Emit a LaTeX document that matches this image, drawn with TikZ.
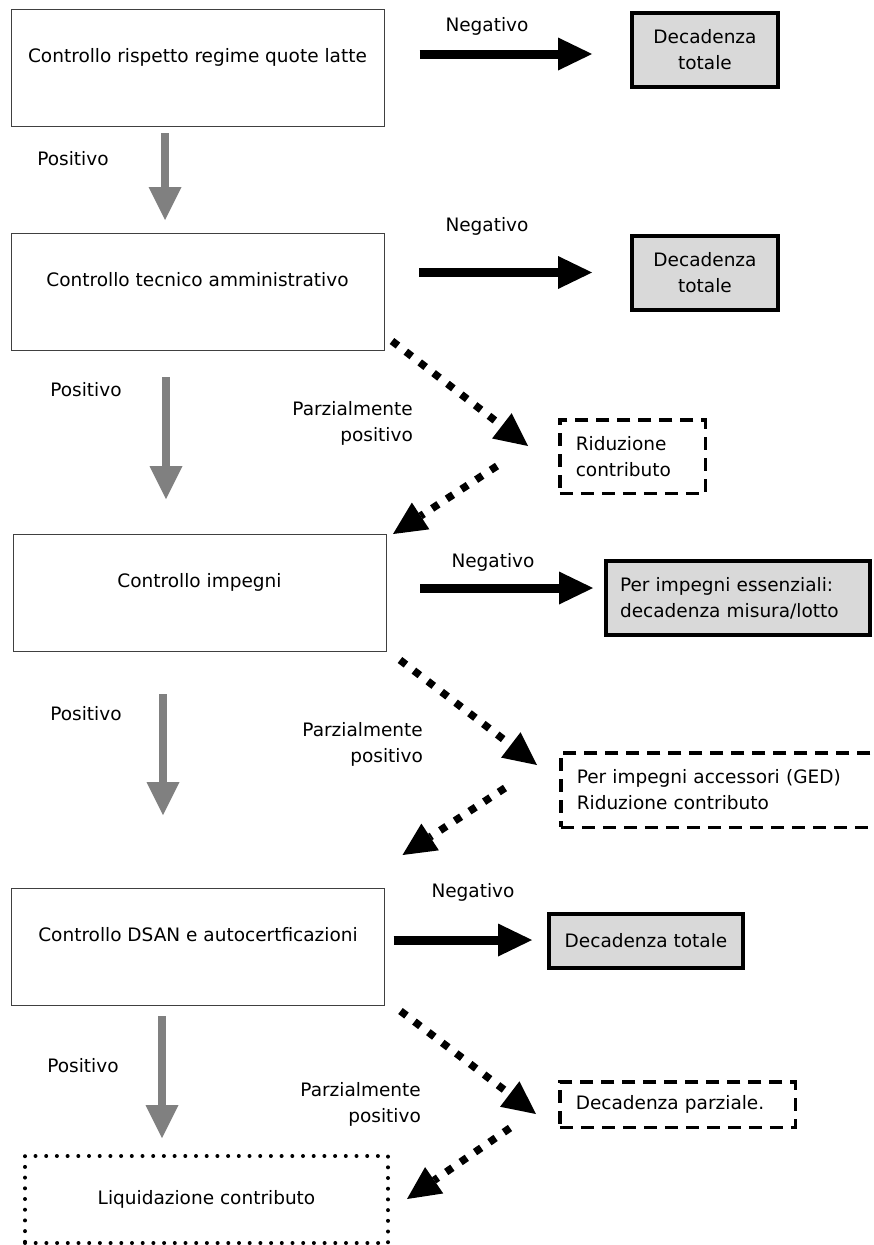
\documentclass[tikz,border=0pt]{standalone}
\usepackage{fontspec}
\setmainfont{DejaVu Sans}
\usetikzlibrary{positioning,arrows.meta}
\definecolor{decgray}{HTML}{D9D9D9}
\definecolor{posgray}{HTML}{808080}

\begin{document}
\begin{tikzpicture}[
    x=1pt, y=-1pt,
    every node/.style={font=\fontsize{18.5}{26}\selectfont},
    ctrl/.style={draw=black!75, line width=1pt, minimum width=373pt, minimum height=117pt, text height=14pt, text depth=25pt},
    dec/.style={draw, line width=4pt, fill=decgray, align=center, minimum height=74pt},
    partbox/.style={draw, line width=3.5pt, dash pattern=on 13pt off 8pt, align=left, inner xsep=16pt},
    lbl/.style={inner sep=0pt, align=right},
    negarrow/.style={-{Triangle[length=34pt, width=33pt, line width=0pt]}, line width=9pt},
    posarrow/.style={-{Triangle[length=33pt, width=33pt, line width=0pt]}, line width=8.5pt, draw=posgray},
    partarrow/.style={-{Triangle[length=33pt, width=32pt, line width=0pt]}, line width=7.5pt, dash pattern=on 7.5pt off 10pt}
]

\path[fill=white, use as bounding box] (0,0) rectangle (873,1245);

\node[ctrl] (c1) at (197.5,68) {Controllo rispetto regime quote latte};
\node[ctrl] (c2) [below=106pt of c1] {Controllo tecnico amministrativo};
\node[ctrl] (c3) [below=183pt of c2, xshift=2pt] {Controllo impegni};
\node[ctrl] (c4) [below=236pt of c3, xshift=-1.5pt] {Controllo DSAN e autocertficazioni};
\node[draw, line width=4pt, line cap=round, dash pattern=on 0pt off 10.7pt, minimum width=363pt, minimum height=87pt] (liq) [below=148pt of c4, xshift=8.5pt] {Liquidazione contributo};

\node[dec, minimum width=146pt] (d1) at (705,50) {Decadenza\\totale};
\node[dec, minimum width=146pt] (d2) at (705,272.5) {Decadenza\\totale};
\node[dec, minimum width=264pt, text width=236pt, align=left] (d3) at (738,598) {Per impegni essenziali:\\decadenza misura/lotto};
\node[dec, minimum width=194pt, minimum height=54pt] (d4) at (646,941) {Decadenza totale};

\node[partbox, text width=113.5pt, minimum height=73.5pt] (r1) at (632.5,456.5) {Riduzione\\contributo};
\node[partbox, text width=295.5pt, minimum height=74.5pt] (r2) at (724.5,790) {Per impegni accessori (GED)\\Riduzione contributo};
\node[partbox, text width=203.5pt, minimum height=45.5pt] (r3) at (677.5,1104.5) {Decadenza parziale.};

\node[lbl] (n1) at (487,26) {Negativo};
\node[lbl] (n2) at (487,226) {Negativo};
\node[lbl] (n3) at (493,562) {Negativo};
\node[lbl] (n4) at (473,892) {Negativo};
\node[lbl] (p1) at (73,159) {Positivo};
\node[lbl] (p2) at (86,390) {Positivo};
\node[lbl] (p3) at (86,714) {Positivo};
\node[lbl] (p4) at (83,1066) {Positivo};
\node[lbl, anchor=east] (pp2) at (413,423.5) {Parzialmente\\positivo};
\node[lbl, anchor=east] (pp3) at (423,744.5) {Parzialmente\\positivo};
\node[lbl, anchor=east] (pp4) at (421,1104) {Parzialmente\\positivo};

\draw[negarrow] ([shift={(35,4)}]c1.east |- d1.west) -- ([shift={(-38,4)}]d1.west);
\draw[negarrow] ([shift={(34.5,0)}]c2.east |- d2.west) -- ([shift={(-38,0)}]d2.west);
\draw[negarrow] ([shift={(33.5,-10)}]c3.east |- d3.west) -- ([shift={(-11,-10)}]d3.west);
\draw[negarrow] ([shift={(8.5,-1)}]c4.east |- d4.west) -- ([shift={(-15,-1)}]d4.west);

\draw[posarrow] ([shift={(-32.5,6)}]c1.south) -- ([shift={(-32.5,-13)}]c2.north);
\draw[posarrow] ([shift={(-31.5,26)}]c2.south) -- ([shift={(-33.5,-35)}]c3.north);
\draw[posarrow] ([shift={(-36.5,42)}]c3.south) -- ([shift={(-35,-73)}]c4.north);
\draw[posarrow] ([shift={(-36,10)}]c4.south) -- ([shift={(-44.5,-16)}]liq.north);

\draw[partarrow] ([shift={(7.5,-10)}]c2.south east) -- ([shift={(-30,-10.5)}]r1.west);
\draw[partarrow] ([shift={(-61,9.5)}]r1.west) -- ([shift={(6.5,0)}]c3.north east);
\draw[partarrow] ([shift={(13.5,8)}]c3.south east) -- ([shift={(-22,-25)}]r2.west);
\draw[partarrow] ([shift={(-54,-2)}]r2.west) -- ([shift={(17.5,-33)}]c4.north east);
\draw[partarrow] ([shift={(15.5,5)}]c4.south east) -- ([shift={(-22,9.5)}]r3.west);
\draw[partarrow] ([shift={(-48,23.5)}]r3.west) -- ([shift={(17,-0.5)}]liq.east);

\end{tikzpicture}
\end{document}
